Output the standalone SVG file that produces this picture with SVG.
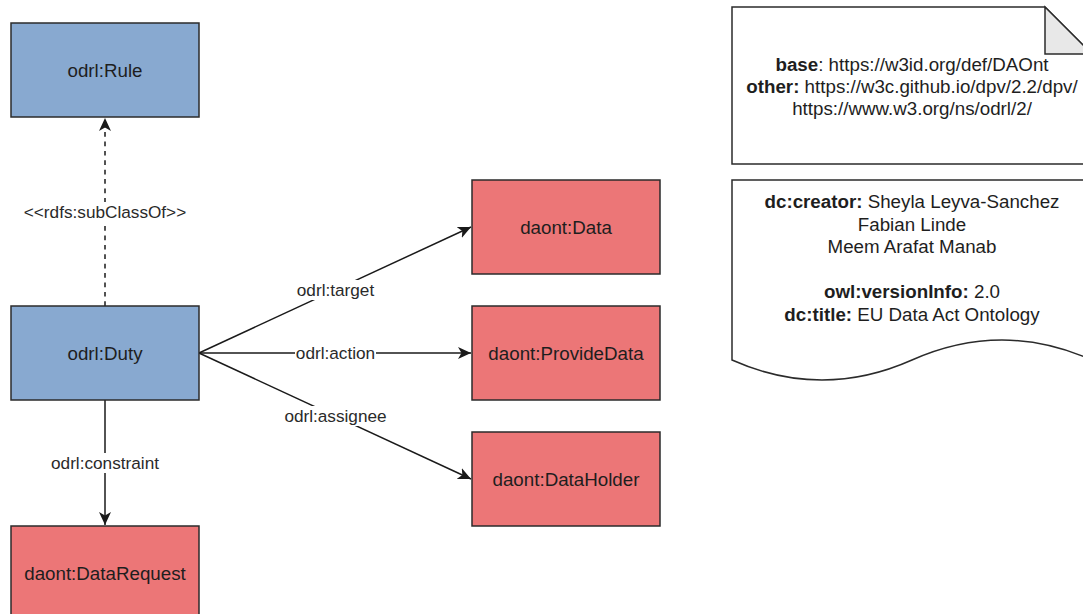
<svg xmlns="http://www.w3.org/2000/svg" width="1083" height="614" viewBox="0 0 1083 614">
  <defs>
    <style>
      .node { stroke: #2b2b2b; stroke-width: 1.5; }
      .blue { fill: #88a9d0; }
      .red { fill: #ec7677; }
      .lbl { font-family: "Liberation Sans", Arial, Helvetica, sans-serif; font-size: 18.75px; fill: #1e1e1e; text-anchor: middle; }
      .edge { fill: none; stroke: #1a1a1a; stroke-width: 1.5; }
      .dashed { stroke-dasharray: 4.7 4.7; }
      .elbl { font-family: "Liberation Sans", Arial, Helvetica, sans-serif; font-size: 17.2px; fill: #2a2a2a; text-anchor: middle; }
      .lblbg { fill: #ffffff; }
      .b { font-weight: bold; }
      .shape { fill: #ffffff; stroke: #2b2b2b; stroke-width: 1.5; }
    </style>
    <marker id="arrow" markerUnits="userSpaceOnUse" viewBox="0 0 13 12" refX="13" refY="6" markerWidth="13" markerHeight="12" orient="auto">
      <path d="M0,0 L13,6 L0,12 L3.5,6 Z" fill="#1a1a1a"/>
    </marker>
  </defs>

  <rect width="1083" height="614" fill="#ffffff"/>

  <!-- connectors -->
  <g id="connectors">
    <g id="edge-subclass">
      <path class="edge dashed" d="M105,306 V118" marker-end="url(#arrow)"/>
      <rect class="lblbg" x="23" y="202" width="164" height="20"/>
      <text class="elbl" x="105" y="218">&lt;&lt;rdfs:subClassOf&gt;&gt;</text>
    </g>
    <g id="edge-constraint">
      <path class="edge" d="M105,400 V525" marker-end="url(#arrow)"/>
      <rect class="lblbg" x="50" y="453" width="110" height="20"/>
      <text class="elbl" x="105" y="469">odrl:constraint</text>
    </g>
    <g id="edge-target">
      <path class="edge" d="M199,353 L471,227" marker-end="url(#arrow)"/>
      <rect class="lblbg" x="296" y="280" width="80" height="20"/>
      <text class="elbl" x="335.5" y="296">odrl:target</text>
    </g>
    <g id="edge-action">
      <path class="edge" d="M199,353 H471" marker-end="url(#arrow)"/>
      <rect class="lblbg" x="295" y="343" width="81" height="20"/>
      <text class="elbl" x="335.5" y="359">odrl:action</text>
    </g>
    <g id="edge-assignee">
      <path class="edge" d="M199,353 L471,479" marker-end="url(#arrow)"/>
      <rect class="lblbg" x="284" y="406" width="104" height="20"/>
      <text class="elbl" x="335.5" y="422">odrl:assignee</text>
    </g>
  </g>

  <!-- class nodes -->
  <g id="node-rule">
    <rect class="node blue" x="11" y="23" width="188" height="94"/>
    <text class="lbl" x="105" y="76.5">odrl:Rule</text>
  </g>
  <g id="node-duty">
    <rect class="node blue" x="11" y="306" width="188" height="94"/>
    <text class="lbl" x="105" y="359.5">odrl:Duty</text>
  </g>
  <g id="node-datarequest">
    <rect class="node red" x="11" y="526" width="188" height="94"/>
    <text class="lbl" x="105" y="579.5">daont:DataRequest</text>
  </g>
  <g id="node-data">
    <rect class="node red" x="472" y="180" width="188" height="94"/>
    <text class="lbl" x="566" y="233.5">daont:Data</text>
  </g>
  <g id="node-providedata">
    <rect class="node red" x="472" y="306" width="188" height="94"/>
    <text class="lbl" x="566" y="359.5">daont:ProvideData</text>
  </g>
  <g id="node-dataholder">
    <rect class="node red" x="472" y="432" width="188" height="94"/>
    <text class="lbl" x="566" y="485.5">daont:DataHolder</text>
  </g>

  <!-- namespace note -->
  <g id="node-namespaces">
    <path class="shape" d="M732,7 H1045 L1092,54 V164 H732 Z"/>
    <path d="M1045,7 V54 H1092 Z" fill="#e8e8e8" stroke="#2b2b2b" stroke-width="1.5"/>
    <text class="lbl" x="912" y="70.5"><tspan class="b">base</tspan>: https://w3id.org/def/DAOnt</text>
    <text class="lbl" x="912" y="92.5"><tspan class="b">other:</tspan> https://w3c.github.io/dpv/2.2/dpv/</text>
    <text class="lbl" x="912" y="114.5">https://www.w3.org/ns/odrl/2/</text>
  </g>

  <!-- metadata document -->
  <g id="node-metadata">
    <path class="shape" d="M732,180 H1092 V360 Q1002,320 912,360 Q822,400 732,360 Z"/>
    <text class="lbl" x="912" y="208"><tspan class="b">dc:creator:</tspan> Sheyla Leyva-Sanchez</text>
    <text class="lbl" x="912" y="230.5">Fabian Linde</text>
    <text class="lbl" x="912" y="253">Meem Arafat Manab</text>
    <text class="lbl" x="912" y="298"><tspan class="b">owl:versionInfo:</tspan> 2.0</text>
    <text class="lbl" x="912" y="320.5"><tspan class="b">dc:title:</tspan> EU Data Act Ontology</text>
  </g>
</svg>
